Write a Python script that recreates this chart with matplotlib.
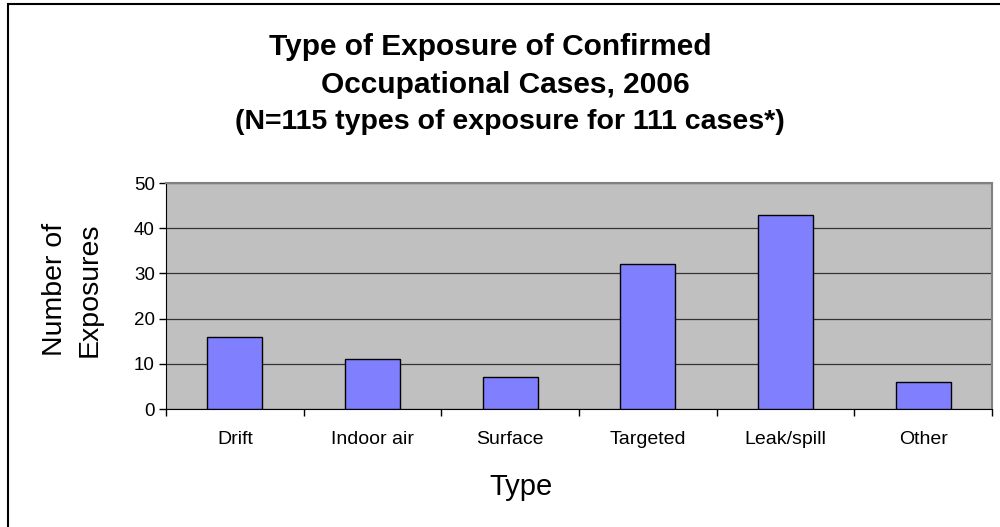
import numpy as np
import matplotlib.pyplot as plt
from matplotlib.patches import Rectangle

plt.rcParams['font.family'] = ['Liberation Sans', 'DejaVu Sans']

# data
types = ['Drift', 'Indoor air', 'Surface', 'Targeted', 'Leak/spill', 'Other']
counts = [16, 11, 7, 32, 43, 6]

W, H = 1000, 527
fig = plt.figure(figsize=(W / 100, H / 100), dpi=100)

# outer chart border (cut off on right and bottom)
fig.patches.append(Rectangle((8 / W, -0.05), 1.1, (H - 4) / H + 0.05,
                             transform=fig.transFigure, fill=False,
                             edgecolor='black', linewidth=1.5))

# plot area in pixels
left, right, top, bottom = 166, 992, 183, 409
ax = fig.add_axes([left / W, (H - bottom) / H, (right - left) / W, (bottom - top) / H])
ax.set_facecolor('#C0C0C0')

x = np.arange(len(types))
ax.bar(x, counts, width=0.4, color='#8080FF', edgecolor='black', linewidth=1, zorder=3)

ax.set_xlim(-0.5, len(types) - 0.5)
ax.set_ylim(0, 50)
ax.set_yticks(range(0, 51, 10))
ax.yaxis.grid(True, color='#333333', linewidth=0.9, zorder=1)

# category boundaries get the tick marks, labels sit between them
ax.set_xticks(np.arange(-0.5, len(types), 1))
ax.set_xticklabels([])
ax.set_xticks(x, minor=True)
ax.set_xticklabels(types, minor=True, fontsize=14)
ax.tick_params(axis='x', which='major', direction='out', length=5, width=1)
ax.tick_params(axis='x', which='minor', length=0, pad=15.5)
ax.tick_params(axis='y', direction='out', length=5, width=1, labelsize=13.5, pad=3)

for s in ['left', 'bottom']:
    ax.spines[s].set_color('black')
for s in ['top', 'right']:
    ax.spines[s].set_color('#808080')
    ax.spines[s].set_linewidth(1.5)

ax.set_ylabel('Number of\nExposures', fontsize=20.5, linespacing=1.4)
ax.yaxis.set_label_coords(-0.077, 0.527)
ax.set_xlabel('Type', fontsize=21)
ax.xaxis.set_label_coords(0.43, -0.285)

# title lines
fig.text(0.49, 1 - 47 / H, 'Type of Exposure of Confirmed', ha='center', va='center',
         fontsize=21.5, fontweight='bold')
fig.text(0.505, 1 - 85 / H, 'Occupational Cases, 2006', ha='center', va='center',
         fontsize=21.5, fontweight='bold')
fig.text(0.51, 1 - 122 / H, '(N=115 types of exposure for 111 cases*)', ha='center',
         va='center', fontsize=20.5, fontweight='bold')

plt.savefig('out.png', dpi=100)
